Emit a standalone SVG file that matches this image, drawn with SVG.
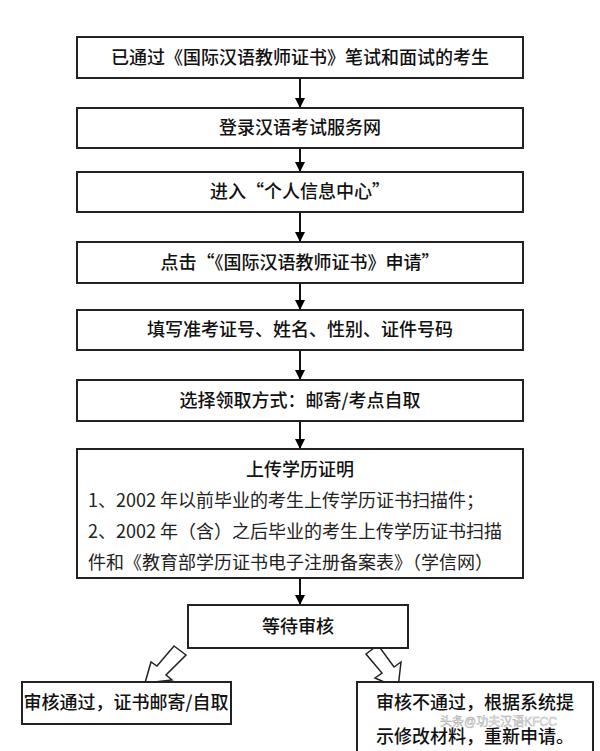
<svg xmlns="http://www.w3.org/2000/svg" width="600" height="751" viewBox="0 0 600 751">
<defs>
<marker id="ah" markerWidth="10" markerHeight="10" refX="9" refY="5" orient="auto" markerUnits="userSpaceOnUse"><path d="M0,0 L10,5 L0,10 Z" fill="#000"/></marker>
<style>
.b{fill:#fff;stroke:#222;stroke-width:2}
.t{font-family:"Noto Sans CJK SC","Liberation Sans",sans-serif;font-size:18px;font-weight:500;fill:#111;text-anchor:middle}
.l{font-family:"Noto Sans CJK SC","Liberation Sans",sans-serif;font-size:18px;fill:#222}
.c{stroke:#111;stroke-width:2;fill:none;marker-end:url(#ah)}
.h{fill:#fff;stroke:#222;stroke-width:1.5}
</style>
</defs>
<rect width="600" height="751" fill="#fff"/>
<g id="connectors">
<line class="c" x1="300" y1="78" x2="300" y2="107"/>
<line class="c" x1="300" y1="148" x2="300" y2="171"/>
<line class="c" x1="300" y1="212" x2="300" y2="241"/>
<line class="c" x1="300" y1="283" x2="300" y2="309"/>
<line class="c" x1="300" y1="350" x2="300" y2="379"/>
<line class="c" x1="300" y1="421" x2="300" y2="448"/>
<line class="c" x1="300" y1="578" x2="300" y2="604"/>
<path class="h" d="M174,646 L186,655 L166,675 L172,680 L145,683 L151,662 L157,666 Z"/>
<path class="h" d="M366,654 L378,645 L394,667 L401,662 L398,688 L375,678 L382,673 Z"/>
</g>
<g id="n1"><rect class="b" x="77" y="37" width="446" height="41"/><text class="t" x="300" y="64">已通过《国际汉语教师证书》笔试和面试的考生</text></g>
<g id="n2"><rect class="b" x="77" y="108" width="446" height="40"/><text class="t" x="300" y="134">登录汉语考试服务网</text></g>
<g id="n3"><rect class="b" x="77" y="172" width="446" height="40"/><text class="t" x="300" y="198">进入“个人信息中心”</text></g>
<g id="n4"><rect class="b" x="77" y="242" width="446" height="41"/><text class="t" x="300" y="269">点击“《国际汉语教师证书》申请”</text></g>
<g id="n5"><rect class="b" x="77" y="310" width="446" height="40"/><text class="t" x="300" y="336">填写准考证号、姓名、性别、证件号码</text></g>
<g id="n6"><rect class="b" x="77" y="380" width="446" height="41"/><text class="t" x="300" y="407">选择领取方式：邮寄/考点自取</text></g>
<g id="n7"><rect class="b" x="77" y="449" width="446" height="129"/>
<text class="t" x="300" y="476">上传学历证明</text>
<text class="l" x="88" y="507">1、2002 年以前毕业的考生上传学历证书扫描件；</text>
<text class="l" x="88" y="538">2、2002 年（含）之后毕业的考生上传学历证书扫描</text>
<text class="l" x="88" y="569">件和《教育部学历证书电子注册备案表》（学信网）</text></g>
<g id="n8"><rect class="b" x="188" y="605" width="220" height="43"/><text class="t" x="298" y="633">等待审核</text></g>
<g id="n9"><rect class="b" x="22" y="682" width="209" height="42"/><text class="t" x="126" y="709">审核通过，证书邮寄/自取</text></g>
<g id="n10"><rect class="b" x="357" y="682" width="236" height="80"/>
<text class="t" x="475" y="709">审核不通过，根据系统提</text>
<text class="t" x="475" y="743">示修改材料，重新申请。</text></g>
<text x="440" y="726" font-family="Liberation Sans,Noto Sans CJK SC,sans-serif" font-size="12" fill="#fff" stroke="#999" stroke-width="0.5" opacity="0.8">头条@功夫汉语KFCC</text>
</svg>
